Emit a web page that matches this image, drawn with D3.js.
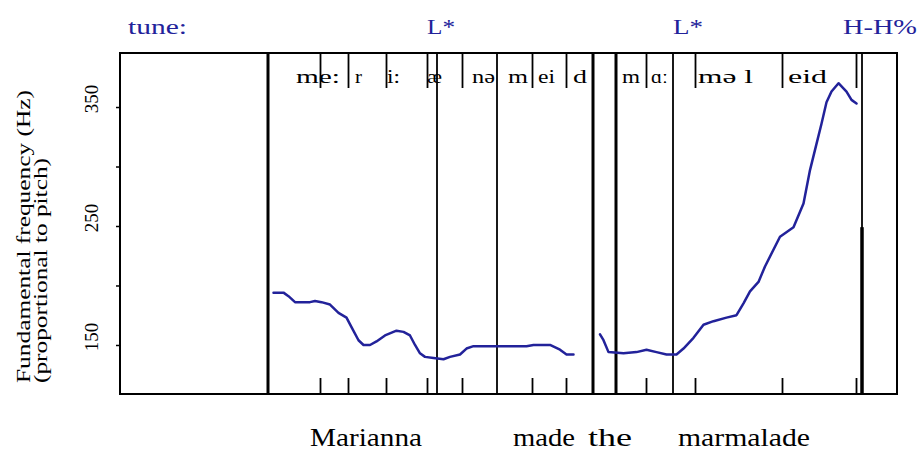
<!DOCTYPE html>
<html>
<head>
<meta charset="utf-8">
<script src="https://cdn.jsdelivr.net/npm/d3@7"></script>
<style>
  body { margin: 0; background: #fff; }
  text { font-family: "Liberation Serif", "Times New Roman", serif; }
</style>
</head>
<body>
<div id="chart"></div>
<script>
// time in ms, f0 in Hz
var pitch1 = [[307,194],[327,194],[337,191],[350,186],[380,186],[390,187],[403,186],[420,184],[437,177],[453,173],[463,165],[477,154],[487,150],[500,150],[513,153],[530,158],[553,162],[567,161],[580,158],[590,150],[600,143],[610,140],[627,139],[647,138],[660,140],[680,142],[693,147],[707,149],[747,149],[787,149],[813,149],[827,150],[860,150],[880,146],[893,142],[907,142]];
var pitch2 = [[960,159],[967,154],[977,144],[1007,143],[1033,144],[1053,146],[1073,144],[1093,142],[1113,142],[1127,147],[1147,156],[1167,167],[1187,170],[1213,173],[1233,175],[1247,185],[1260,195],[1277,203],[1290,216],[1320,241],[1347,249],[1367,269],[1380,297],[1393,319],[1403,336],[1413,354],[1423,363],[1437,370],[1453,363],[1463,356],[1473,353]];

// segment boundaries (ms)
var thickBounds = [296, 946, 992];
var thinBounds = [634, 754, 1106];
var lastBound = 1484;
var segTicks = [400, 456, 532, 614, 684, 824, 892, 1052, 1150, 1324, 1472];

// phoneme labels: [label, start, end]
var phonemes = [["me:",352,440],["r",470,484],["i:",534,560],["æ",614,644],["nə",704,750],["m",776,816],["ei",836,870],["d",906,934],["m",1004,1040],["ɑː",1062,1096],["mə l",1156,1266],["eid",1336,1414]];

// words: [word, start, end]
var words = [["Marianna",380,604],["made",786,910],["the",936,1024],["marmalade",1116,1380]];

// tones: [label, start, end]
var tones = [["L*",614,670],["L*",1106,1166],["H-H%",1446,1594]];

var yTicks = [150, 200, 250, 300, 350];
var yLabels = [150, 250, 350];

function base(){
    var W = 922, H = 450;
    var left = 120, right = 897, top = 53, bottom = 394;
    var blue = "#22229a";

    var svg = d3.select("#chart").append("svg")
        .attr("width", W).attr("height", H);

    var x = d3.scaleLinear().domain([0, 1554]).range([left, right]);
    var y = d3.scaleLinear().domain([108.8, 395.4]).range([bottom, top]);

    // frame
    svg.append("rect")
        .attr("x", left).attr("y", top)
        .attr("width", right - left).attr("height", bottom - top)
        .attr("fill", "none").attr("stroke", "#000").attr("stroke-width", 2);

    // boundaries
    svg.selectAll(".thick").data(thickBounds).enter().append("line")
        .attr("x1", d => x(d)).attr("x2", d => x(d))
        .attr("y1", top).attr("y2", bottom)
        .attr("stroke", "#000").attr("stroke-width", 3);
    svg.selectAll(".thin").data(thinBounds).enter().append("line")
        .attr("x1", d => x(d)).attr("x2", d => x(d))
        .attr("y1", top).attr("y2", bottom)
        .attr("stroke", "#000").attr("stroke-width", 1.8);
    svg.append("line")
        .attr("x1", x(lastBound)).attr("x2", x(lastBound))
        .attr("y1", top).attr("y2", bottom)
        .attr("stroke", "#000").attr("stroke-width", 1.8);
    svg.append("line")
        .attr("x1", x(lastBound)).attr("x2", x(lastBound))
        .attr("y1", y(249)).attr("y2", bottom)
        .attr("stroke", "#000").attr("stroke-width", 3.5);

    // segment ticks, top and bottom
    var topAxis = svg.append("g").attr("transform", "translate(0," + top + ")")
        .call(d3.axisTop(x).tickValues(segTicks).tickSize(-35).tickFormat(""));
    var botAxis = svg.append("g").attr("transform", "translate(0," + bottom + ")")
        .call(d3.axisBottom(x).tickValues(segTicks).tickSize(-16).tickFormat(""));
    [topAxis, botAxis].forEach(function(g) {
        g.select(".domain").remove();
        g.selectAll(".tick line").attr("stroke", "#000").attr("stroke-width", 1.8);
    });

    // y axis
    var yAxis = svg.append("g").attr("transform", "translate(" + left + ",0)")
        .call(d3.axisLeft(y).tickValues(yTicks).tickSize(4).tickFormat(""));
    yAxis.select(".domain").remove();
    yAxis.selectAll(".tick line").attr("stroke", "#000").attr("stroke-width", 1.5);

    svg.selectAll(".ylab").data(yLabels).enter().append("text")
        .attr("transform", d => "translate(98," + (y(d) - 8) + ") rotate(-90)")
        .attr("text-anchor", "middle")
        .attr("font-size", 19)
        .text(d => d);

    svg.append("text")
        .attr("transform", "translate(30,383) rotate(-90)")
        .attr("font-size", 19)
        .attr("textLength", 293).attr("lengthAdjust", "spacingAndGlyphs")
        .text("Fundamental frequency (Hz)");
    svg.append("text")
        .attr("transform", "translate(47,383) rotate(-90)")
        .attr("font-size", 19)
        .attr("textLength", 225).attr("lengthAdjust", "spacingAndGlyphs")
        .text("(proportional to pitch)");

    // pitch track
    var line = d3.line().x(d => x(d[0])).y(d => y(d[1]));
    [pitch1, pitch2].forEach(function(p) {
        svg.append("path").datum(p)
            .attr("d", line)
            .attr("fill", "none").attr("stroke", blue)
            .attr("stroke-width", 2.5).attr("stroke-linejoin", "round")
            .attr("stroke-linecap", "round");
    });

    // phonemes
    svg.selectAll(".ph").data(phonemes).enter().append("text")
        .attr("x", d => x(d[1])).attr("y", 83)
        .attr("font-size", 19)
        .attr("textLength", d => x(d[2]) - x(d[1]))
        .attr("lengthAdjust", "spacingAndGlyphs")
        .text(d => d[0]);

    // words
    svg.selectAll(".wd").data(words).enter().append("text")
        .attr("x", d => x(d[1])).attr("y", 446)
        .attr("font-size", 25)
        .attr("textLength", d => x(d[2]) - x(d[1]))
        .attr("lengthAdjust", "spacingAndGlyphs")
        .text(d => d[0]);

    // tune
    svg.append("text")
        .attr("x", 128).attr("y", 34)
        .attr("font-size", 20).attr("fill", blue)
        .attr("textLength", 59).attr("lengthAdjust", "spacingAndGlyphs")
        .text("tune:");
    svg.selectAll(".tn").data(tones).enter().append("text")
        .attr("x", d => x(d[1])).attr("y", 34)
        .attr("font-size", 20).attr("fill", blue)
        .attr("textLength", d => x(d[2]) - x(d[1]))
        .attr("lengthAdjust", "spacingAndGlyphs")
        .text(d => d[0]);
}

window.onload = base;
</script>
</body>
</html>
